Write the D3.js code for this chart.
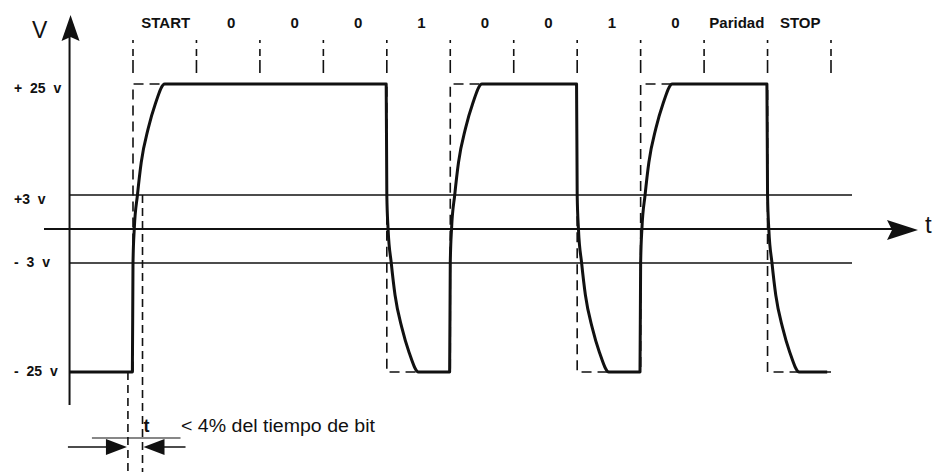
<!DOCTYPE html>
<html>
<head>
<meta charset="utf-8">
<script src="https://cdn.jsdelivr.net/npm/d3@7"></script>
<style>
  body { margin: 0; background: #fff; }
  svg { display: block; font-family: "Liberation Sans", Arial, sans-serif; }
</style>
</head>
<body>
<div id="chart"></div>
<script>
// Frame bits, as labelled on top of the diagram
const bitLabels = ['START', '0', '0', '0', '1', '0', '0', '1', '0', 'Paridad', 'STOP'];
// Line level for every bit (volts): logic 0 = +25 v, logic 1 = -25 v
const bitLevels = [25, 25, 25, 25, -25, 25, 25, -25, 25, 25, -25];
const idleLevel = -25;
const signalStart = -1;     // in bit periods, signal starts at the V axis
const signalEnd = 10.94;

// Level marks on the V axis
const levelTicks = [25, 3, -3, -25];
const levelLabels = ['+ 25 v', '+3 v', '- 3 v', '- 25 v'];
const thresholds = [3, -3];

// Shape of a rising edge: [time after bit boundary (bit periods), volts]
const riseEdge = [[-0.01, -25], [0.0, -3], [0.02, 0], [0.07, 3], [0.13, 9.5], [0.24, 16.2], [0.35, 21], [0.5, 25]];

// Rise-time annotation (bit periods around the START edge)
const riseMark = [-0.08, 0.15];

const W = 936, H = 472;
const ink = '#111';

const svg = d3.select('#chart').append('svg')
    .attr('width', W)
    .attr('height', H);

svg.append('rect').attr('width', W).attr('height', H).attr('fill', '#fff');

// time in bit periods -> px ; volts -> px (diagram is not to scale around 0 v)
const x = d3.scaleLinear().domain([0, bitLabels.length]).range([133, 831]);
const y = d3.scaleLinear()
    .domain([-25, -3, 0, 3, 25])
    .range([372, 263, 229, 195, 84]);

const axisX = x(signalStart);

// threshold lines +3 / -3
svg.selectAll('.thr')
    .data(thresholds)
    .enter().append('line')
    .attr('x1', axisX).attr('x2', 852)
    .attr('y1', d => y(d)).attr('y2', d => y(d))
    .attr('stroke', ink).attr('stroke-width', 1.7);

// t axis
svg.append('line')
    .attr('x1', 44).attr('x2', 892)
    .attr('y1', y(0)).attr('y2', y(0))
    .attr('stroke', ink).attr('stroke-width', 1.9);
svg.append('path')
    .attr('d', `M918,${y(0) + 1} L887,${y(0) - 9} L892,${y(0) + 1} L887,${y(0) + 11} Z`)
    .attr('fill', ink);
svg.append('text')
    .attr('x', 925).attr('y', y(0) + 4)
    .attr('font-size', 24)
    .attr('fill', ink)
    .text('t');

// V axis
svg.append('line')
    .attr('x1', axisX).attr('x2', axisX)
    .attr('y1', 30).attr('y2', 405)
    .attr('stroke', ink).attr('stroke-width', 2);
svg.append('path')
    .attr('d', `M${axisX + 1},15 L${axisX + 10},41 L${axisX + 1},37 L${axisX - 8},41 Z`)
    .attr('fill', ink);
svg.append('text')
    .attr('x', 32).attr('y', 38)
    .attr('font-size', 23)
    .attr('fill', ink)
    .text('V');

svg.selectAll('.lvl')
    .data(levelTicks)
    .enter().append('text')
    .attr('x', 14)
    .attr('y', d => y(d) + (d > 0 ? 9 : 4))
    .attr('font-size', 14)
    .attr('font-weight', 'bold')
    .attr('word-spacing', 4)
    .attr('fill', ink)
    .attr('xml:space', 'preserve')
    .text((d, i) => levelLabels[i]);

// bit labels
svg.selectAll('.bitlab')
    .data(bitLabels)
    .enter().append('text')
    .attr('x', (d, i) => x(i + 0.5) + (d.length === 1 ? 3 : 1))
    .attr('y', 28)
    .attr('text-anchor', 'middle')
    .attr('font-size', 15)
    .attr('font-weight', 'bold')
    .attr('fill', ink)
    .text(d => d);

// bit boundary ticks
svg.selectAll('.tick')
    .data(d3.range(bitLabels.length + 1))
    .enter().append('line')
    .attr('x1', d => x(d)).attr('x2', d => x(d))
    .attr('y1', 40).attr('y2', 73)
    .attr('stroke', ink).attr('stroke-width', 1.6)
    .attr('stroke-dasharray', '3,6,7,4,13');

// ideal square wave (dashed)
const ideal = [[signalStart, idleLevel]]
    .concat(bitLevels.map((v, i) => [i, v]))
    .concat([[bitLevels.length, bitLevels[bitLevels.length - 1]]]);

svg.append('path')
    .datum(ideal)
    .attr('fill', 'none')
    .attr('stroke', ink)
    .attr('stroke-width', 1.6)
    .attr('stroke-dasharray', '10,6')
    .attr('d', d3.line().x(d => x(d[0])).y(d => y(d[1])).curve(d3.curveStepAfter));

// real signal with finite rise / fall time
const pts = [[signalStart, idleLevel]];
let prev = idleLevel;
bitLevels.forEach((lv, i) => {
    if (lv !== prev) {
        const dir = lv > prev ? 1 : -1;
        riseEdge.forEach(([dt, v]) => pts.push([i + dt, dir * v]));
    }
    prev = lv;
});
pts.push([signalEnd, prev]);

svg.append('path')
    .datum(pts)
    .attr('fill', 'none')
    .attr('stroke', ink)
    .attr('stroke-width', 3)
    .attr('stroke-linejoin', 'round')
    .attr('d', d3.line().x(d => x(d[0])).y(d => y(d[1])).curve(d3.curveMonotoneX));

// rise time annotation
const tL = x(riseMark[0]), tR = x(riseMark[1]);
svg.append('line')
    .attr('x1', tL).attr('x2', tL)
    .attr('y1', y(-25)).attr('y2', H)
    .attr('stroke', ink).attr('stroke-width', 1.6)
    .attr('stroke-dasharray', '8,5');
svg.append('line')
    .attr('x1', tR).attr('x2', tR)
    .attr('y1', y(3)).attr('y2', H)
    .attr('stroke', ink).attr('stroke-width', 1.6)
    .attr('stroke-dasharray', '8,5');

const ay = 447;
svg.append('line')
    .attr('x1', tL - 36).attr('x2', tR + 38)
    .attr('y1', 438).attr('y2', 438)
    .attr('stroke', ink).attr('stroke-width', 1.2);
svg.append('line')
    .attr('x1', tL - 60).attr('x2', tL - 20)
    .attr('y1', ay).attr('y2', ay)
    .attr('stroke', ink).attr('stroke-width', 1.5);
svg.append('line')
    .attr('x1', tR + 20).attr('x2', tR + 43)
    .attr('y1', ay).attr('y2', ay)
    .attr('stroke', ink).attr('stroke-width', 1.5);
svg.append('path')
    .attr('d', `M${tL - 1},${ay} L${tL - 22},${ay - 8} L${tL - 22},${ay + 8} Z`)
    .attr('fill', ink);
svg.append('path')
    .attr('d', `M${tR + 1},${ay} L${tR + 22},${ay - 8} L${tR + 22},${ay + 8} Z`)
    .attr('fill', ink);

svg.append('text')
    .attr('x', tR + 1).attr('y', 432)
    .attr('font-size', 18)
    .attr('font-weight', 'bold')
    .attr('fill', ink)
    .text('t');
svg.append('text')
    .attr('x', 181).attr('y', 432)
    .attr('font-size', 18)
    .attr('textLength', 194)
    .attr('lengthAdjust', 'spacingAndGlyphs')
    .attr('fill', ink)
    .text('< 4% del tiempo de bit');
</script>
</body>
</html>
